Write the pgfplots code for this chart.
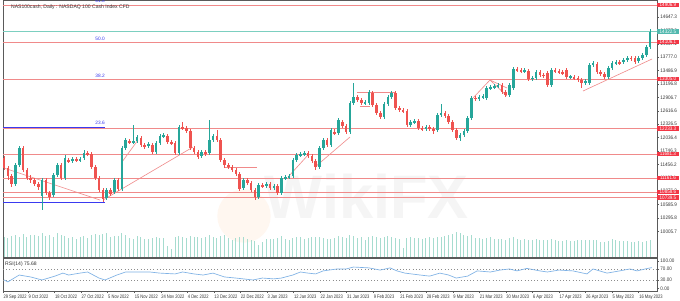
\documentclass[border=0pt]{standalone}
\usepackage{pgfplots}
\pgfplotsset{compat=1.18}
\usepackage{pgfplotstable}
\usepackage{fontspec}
\setmainfont{Liberation Sans}
\definecolor{cgreen}{HTML}{26A69A}
\definecolor{cred}{HTML}{EF5350}
\definecolor{linered}{HTML}{F08A8A}
\definecolor{labred}{HTML}{F23645}
\definecolor{tealline}{HTML}{7CCFC0}
\definecolor{fibblue}{HTML}{3A3AF0}
\definecolor{rsiblue}{HTML}{7FB2E5}
\definecolor{volcol}{HTML}{A6DCCF}
\definecolor{axisgray}{HTML}{5A5A5A}
\newcommand\tf{\fontsize{3.8}{4.5}\selectfont}

\pgfplotstableread{
i o h l c v
0 11594 11638 11335 11378 9800
1 11378 11421 11118 11205 9500
2 11205 11248 10966 11031 10500
3 11031 11486 10988 11443 11000
4 11443 11854 11399 11811 10200
5 11811 11854 11291 11335 11500
6 11335 11378 11118 11161 9800
7 11161 11226 11053 11118 10800
8 11118 11161 10988 11031 11200
9 11031 11075 10902 10966 10600
10 10772 11161 10469 11118 12000
11 11118 11161 10793 10837 10500
12 10837 10880 10685 10750 10900
13 10793 11270 10750 11226 10200
14 11226 11486 11183 11443 11800
15 11443 11486 11118 11161 11000
16 11161 11659 11118 11594 10400
17 11551 11594 11486 11529 9600
18 11529 11616 11486 11573 10200
19 11573 11616 11508 11551 8800
20 11551 11616 11508 11573 9900
21 11594 11768 11551 11703 10300
22 11703 11746 11638 11681 9700
23 11681 11724 11356 11399 10900
24 11399 11443 11118 11161 11300
25 11161 11205 10858 10902 10800
26 10902 10945 10642 10707 11500
27 10728 10945 10685 10902 11900
28 10902 10945 10772 10815 10200
29 10858 11161 10815 11118 10600
30 11118 11161 10880 10923 10500
31 10923 11854 10880 11811 12200
32 11811 12027 11768 11984 11000
33 11962 12006 11897 11941 9600
34 11941 12309 11897 11962 9000
35 11962 12092 11919 12049 10300
36 12027 12071 11832 11876 9800
37 11876 11919 11789 11832 9200
38 11854 11941 11811 11897 8900
39 11876 11919 11681 11724 9600
40 11724 11962 11681 11919 10100
41 11919 12114 11876 12071 9700
42 12071 12136 12027 12092 9400
43 12071 12114 11897 11941 5600
44 11941 11984 11876 11919 4200
45 11919 11962 11659 11703 9800
46 11703 12309 11659 12265 10600
47 12265 12374 12201 12244 9900
48 12244 12287 12136 12179 9300
49 12179 12222 11768 11811 10400
50 11811 11854 11681 11724 9800
51 11724 11768 11573 11616 10200
52 11638 11768 11594 11724 9600
53 11724 11768 11638 11681 9900
54 11703 12417 11659 11984 10900
55 11984 12114 11941 12071 10100
56 12071 12201 11941 11984 9700
57 11984 12027 11508 11551 10400
58 11551 11594 11378 11443 10800
59 11443 11486 11356 11399 9500
60 11399 11443 11291 11335 8600
61 11335 11378 11205 11248 9300
62 11248 11291 10880 10923 10200
63 10945 11161 10902 11118 9900
64 11118 11161 11010 11053 9000
65 11053 11096 10858 10902 8400
66 10902 10945 10685 10750 8200
67 10750 11053 10707 11010 6000
68 11010 11053 10945 10988 7600
69 10988 11075 10945 11031 8800
70 11031 11075 10902 10945 8900
71 10945 11031 10902 10988 9100
72 10988 11031 10793 10837 9600
73 10837 11205 10793 11161 10400
74 11161 11226 11118 11183 9000
75 11183 11248 11140 11205 8700
76 11205 11594 11161 11551 9600
77 11551 11703 11508 11659 9900
78 11659 11724 11616 11681 9800
79 11681 11746 11638 11703 8900
80 11703 11746 11594 11638 9300
81 11638 11681 11486 11529 9800
82 11529 11573 11335 11399 10100
83 11399 11854 11356 11811 9900
84 11811 12027 11768 11984 9400
85 11984 12027 11832 11876 9200
86 11876 12244 11832 12201 9000
87 12157 12222 12092 12136 9600
88 12136 12460 12092 12417 10300
89 12374 12417 12244 12287 9900
90 12287 12330 12114 12157 9500
91 12157 12829 12114 12785 11000
92 12785 13218 12742 12915 10600
93 12915 12959 12807 12850 9700
94 12850 12894 12742 12785 10200
95 12785 12850 12742 12807 8700
96 12785 13067 12742 13024 10000
97 13002 13045 12699 12742 10400
98 12742 12785 12525 12569 9800
99 12569 12612 12439 12482 9400
100 12482 12807 12439 12764 9900
101 12764 12959 12720 12915 10300
102 12915 13045 12872 13002 10000
103 13002 13045 12634 12677 9600
104 12677 12720 12590 12634 8800
105 12634 12677 12569 12612 4500
106 12612 12655 12265 12309 9700
107 12309 12417 12265 12374 10100
108 12374 12439 12330 12395 9600
109 12395 12439 12201 12244 9300
110 12244 12287 12179 12222 9100
111 12222 12309 12179 12265 9400
112 12265 12309 12179 12222 9800
113 12222 12265 12114 12201 9500
114 12201 12569 12157 12525 10200
115 12525 12764 12482 12569 10000
116 12569 12612 12460 12504 10400
117 12504 12547 12330 12374 10900
118 12374 12417 12157 12201 11600
119 12201 12244 11984 12027 12300
120 12027 12136 11962 12092 11800
121 12092 12222 12049 12179 10800
122 12179 12504 12136 12460 10500
123 12460 12937 12417 12894 11200
124 12894 12937 12829 12872 9600
125 12872 12959 12829 12915 9400
126 12915 12980 12872 12937 9100
127 12894 13153 12850 13110 9300
128 13110 13175 13067 13132 9800
129 13132 13197 13088 13153 8900
130 13153 13218 13110 13175 9200
131 13175 13218 12980 13024 9000
132 13024 13067 12915 12959 8600
133 12959 13218 12915 13175 9500
134 13110 13565 13067 13521 10100
135 13521 13565 13456 13500 9000
136 13500 13543 13435 13478 8700
137 13478 13543 13435 13500 8800
138 13478 13521 13262 13305 8500
139 13305 13370 13262 13327 8600
140 13327 13500 13283 13456 8900
141 13456 13500 13348 13392 8400
142 13392 13435 13327 13370 8300
143 13435 13478 13132 13175 8600
144 13175 13543 13132 13500 8900
145 13500 13543 13435 13478 8500
146 13478 13521 13413 13456 8000
147 13456 13500 13392 13435 8200
148 13500 13543 13305 13348 8400
149 13348 13392 13305 13356 7800
150 13348 13392 13283 13327 8000
151 13327 13370 13240 13283 8500
152 13283 13327 13110 13218 8300
153 13218 13305 13175 13262 8600
154 13218 13651 13175 13608 8400
155 13608 13695 13565 13651 8700
156 13630 13673 13413 13456 8300
157 13456 13500 13370 13413 7600
158 13413 13456 13305 13348 7400
159 13348 13586 13305 13543 8200
160 13543 13695 13500 13651 8800
161 13651 13716 13608 13673 8500
162 13673 13716 13608 13651 7900
163 13673 13760 13630 13716 8200
164 13716 13803 13673 13760 8000
165 13760 13803 13695 13738 7400
166 13760 13803 13630 13673 7600
167 13695 13803 13651 13760 7800
168 13760 13868 13716 13825 7700
169 13825 14041 13781 13998 8100
170 13998 14387 13954 14323 8300
}\candles

\pgfplotstableread{
i r
0 31
1 24
4 49
7 42
10 31
13.4 45
15.5 56
17 49
20 56
22 60
25 38
26.6 31
29.7 49
32 60
38.4 60
41 56
45 53
47 60
50 53
52.4 49
55 56
58 42
61 38
65.5 31
68 38
71 35
73 38
76 49
78 60
80 56
82 53
84 64
87.6 71
90 71
92 78
96 75
99 67
101.6 75
103.4 64
105.5 56
109.5 49
112 45
114.7 56
117 49
119 38
122 45
124.5 64
128 60
130.5 67
133 71
135 64
137.6 73
141 64
143 60
146 67
149.7 64
153.4 53
155 71
158.7 56
162 64
164.7 71
166.6 64
169 72
170.5 76
}\rsi

\pgfplotsset{
  candle/.style n args={2}{draw=none, mark=none, forget plot,
    error bars/y dir=both, error bars/y explicit, error bars/error mark=none,
    error bars/error bar style={draw=#1, line width=#2}},
}

\begin{document}
\begin{tikzpicture}
\useasboundingbox (0,0) rectangle (510pt,225pt);
\fill[white] (0,0) rectangle (510pt,225pt);
% watermark
\fill[orange!6] (183pt,63pt) circle (20pt);
\node[text=black!4, font=\fontsize{46}{46}\selectfont\bfseries] at (275pt,78pt) {WikiFX};

% volume axis
\begin{axis}[at={(2.25pt,32.25pt)}, anchor=south west, scale only axis,
  width=490.5pt, height=192.75pt, xmin=-0.263, xmax=171.84, ymin=0, ymax=128500,
  hide axis]
\addplot[ycomb, draw=volcol, line width=0.5pt, mark=none] table[x=i, y=v] {\candles};
\end{axis}

% price axis
\begin{axis}[at={(2.25pt,32.25pt)}, anchor=south west, scale only axis,
  width=490.5pt, height=192.75pt, xmin=-0.263, xmax=171.84, ymin=9451.3, ymax=15015.35,
  axis line style={draw=axisgray, line width=0.5pt},
  xtick=\empty, scaled y ticks=false,
  ytick={14647.3,14357.2,14067.1,13777.0,13486.9,13196.8,12906.7,12616.6,12326.5,12036.4,11746.3,11456.2,11166.1,10876.0,10585.9,10295.8,10005.7},
  ytick pos=right, yticklabel pos=right, tick align=outside,
  major tick length=1.5pt, tick style={axisgray, line width=0.4pt},
  yticklabel style={font=\tf, text=black!80, inner xsep=1pt, xscale=0.9},
  y tick label style={/pgf/number format/.cd, fixed, zerofill, precision=1, 1000 sep={}, assume math mode=true},
  clip mode=individual]
% horizontal levels
\foreach \yy in {14907,14106,13305,12233,11681,11161,10858,10739} {
  \edef\tmp{\noexpand\addplot[linered, line width=0.5pt, forget plot] coordinates {(-0.263,\yy) (171.84,\yy)};}\tmp
}
\addplot[tealline, line width=0.5pt] coordinates {(-0.263,14333) (171.84,14333)};
% fibo lines
\addplot[fibblue, line width=0.4pt] coordinates {(-0.263,12265) (26.6,12265)};
\addplot[fibblue, line width=0.4pt] coordinates {(-0.263,10642) (26.6,10642)};
\node[fibblue, font=\fontsize{3.6}{4}\selectfont] at (axis cs:25.3,14990) {61.8};
\node[fibblue, font=\fontsize{3.6}{4}\selectfont] at (axis cs:25.3,14171) {50.0};
\node[fibblue, font=\fontsize{3.6}{4}\selectfont] at (axis cs:25.3,13370) {38.2};
\node[fibblue, font=\fontsize{3.6}{4}\selectfont] at (axis cs:25.3,12352) {23.6};
% trend lines
\addplot[linered, line width=0.45pt] coordinates {(0,11378) (25.26,10685)};
\addplot[linered, line width=0.45pt] coordinates {(26.05,10685) (49.74,11832)};
\addplot[linered, line width=0.45pt] coordinates {(31.05,11508) (35.26,11984)};
\addplot[linered, line width=0.45pt] coordinates {(58.16,11399) (66.58,11399)};
\addplot[linered, line width=0.45pt] coordinates {(74.74,11183) (80.0,11659)};
\addplot[linered, line width=0.45pt] coordinates {(81.84,11399) (91.05,12049)};
\addplot[linered, line width=0.45pt] coordinates {(92.89,13024) (102.89,13024)};
\addplot[linered, line width=0.45pt] coordinates {(93.68,12720) (96.32,12720)};
\addplot[linered, line width=0.45pt] coordinates {(123.16,12872) (127.89,13283) (132.37,13110)};
\addplot[linered, line width=0.45pt] coordinates {(127.89,13283) (132.37,12937)};
\addplot[linered, line width=0.45pt] coordinates {(152.37,13045) (170.53,13738)};
% wicks
\addplot[restrict expr to domain={\thisrow{c}-\thisrow{o}}{0:100000}, candle={cgreen}{0.45pt}]
  table[x=i, y expr={(\thisrow{h}+\thisrow{l})/2}, y error expr={(\thisrow{h}-\thisrow{l})/2}] {\candles};
\addplot[restrict expr to domain={\thisrow{c}-\thisrow{o}}{-100000:-0.5}, candle={cred}{0.45pt}]
  table[x=i, y expr={(\thisrow{h}+\thisrow{l})/2}, y error expr={(\thisrow{h}-\thisrow{l})/2}] {\candles};
% bodies
\addplot[restrict expr to domain={\thisrow{c}-\thisrow{o}}{0:100000}, candle={cgreen}{1.95pt}]
  table[x=i, y expr={(\thisrow{o}+\thisrow{c})/2}, y error expr={max(abs(\thisrow{c}-\thisrow{o})/2,9)}] {\candles};
\addplot[restrict expr to domain={\thisrow{c}-\thisrow{o}}{-100000:-0.5}, candle={cred}{1.95pt}]
  table[x=i, y expr={(\thisrow{o}+\thisrow{c})/2}, y error expr={max(abs(\thisrow{c}-\thisrow{o})/2,9)}] {\candles};
% right labels
\foreach \yy/\tt in {14907/14906.9,14106/14106.1,13305/13305.0,12233/12233.3,11681/11681.3,11161/11161.6,10858/10858.6,10739/10739.5} {
  \edef\tmp{\noexpand\node[anchor=west, fill=labred, text=white, font=\noexpand\tf, inner xsep=0.8pt, inner ysep=0.5pt, minimum width=16pt] at (axis cs:171.84,\yy) {\noexpand\scalebox{0.9}[1]{\tt}};}\tmp
}
\node[anchor=west, fill=cgreen!80, text=white, font=\tf, inner xsep=0.8pt, inner ysep=0.5pt, minimum width=16pt] at (axis cs:171.84,14333) {\scalebox{0.9}[1]{14322.5}};
\node[anchor=west, font=\tf, text=black!80, inner sep=0pt] at (rel axis cs:0.012,0.972) {NAS100cash, Daily :  NASDAQ 100 Cash Index CFD};
\end{axis}

% RSI axis
\begin{axis}[at={(2.25pt,6.75pt)}, anchor=south west, scale only axis,
  width=490.5pt, height=24.75pt, xmin=-0.263, xmax=171.84, ymin=-9.1, ymax=110.9,
  axis line style={draw=axisgray, line width=0.5pt},
  ytick={0,100}, yticklabels={0.00,100.00},
  extra y ticks={30,70}, extra y tick labels={30.00,70.00},
  extra y tick style={grid=major, major grid style={black!45, dotted, line width=0.35pt}},
  ytick pos=right, yticklabel pos=right, tick align=outside,
  xtick pos=bottom,
  major tick length=1.5pt, tick style={axisgray, line width=0.4pt},
  yticklabel style={font=\tf, text=black!80, inner xsep=1pt, xscale=0.9},
  xtick={-0.26,6.33,13.31,20.30,27.29,34.28,41.26,48.25,55.24,62.22,69.21,76.20,83.19,90.17,97.16,104.15,111.13,118.12,125.11,132.09,139.08,146.07,153.06,160.04,167.03},
  xticklabels={29 Sep 2022,9 Oct 2022,18 Oct 2022,27 Oct 2022,5 Nov 2022,15 Nov 2022,24 Nov 2022,4 Dec 2022,13 Dec 2022,22 Dec 2022,3 Jan 2023,12 Jan 2023,22 Jan 2023,31 Jan 2023,9 Feb 2023,21 Feb 2023,28 Feb 2023,9 Mar 2023,21 Mar 2023,30 Mar 2023,6 Apr 2023,17 Apr 2023,26 Apr 2023,5 May 2023,16 May 2023},
  xticklabel style={font=\tf, text=black!80, anchor=north west, inner xsep=0.3pt, inner ysep=1pt, xscale=0.8},
  clip mode=individual]
\addplot[rsiblue, line width=0.5pt, mark=none] table[x=i, y=r] {\rsi};
\node[anchor=west, font=\tf, text=black!80, inner sep=0pt] at (rel axis cs:0.003,0.82) {RSI(14) 75.68};
\end{axis}
\end{tikzpicture}
\end{document}
